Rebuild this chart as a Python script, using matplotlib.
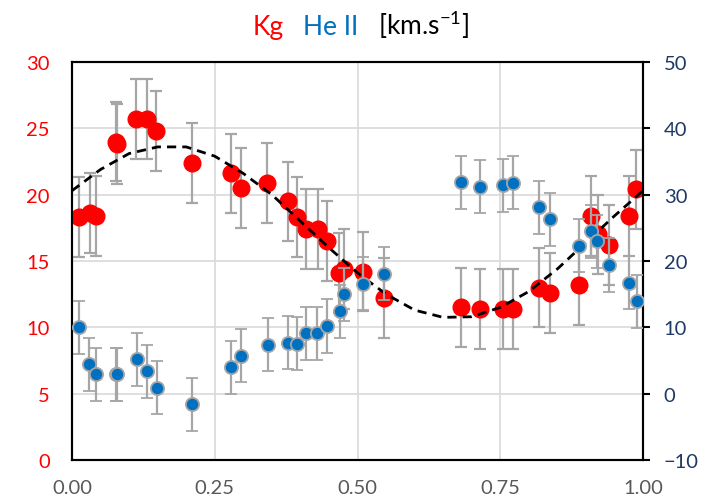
import matplotlib
matplotlib.use("Agg")
import matplotlib.pyplot as plt
from matplotlib.offsetbox import TextArea, HPacker, AnchoredOffsetbox

plt.rcParams['font.family'] = ['Lato', 'DejaVu Sans']

# Kg (red, left axis)
kg_phase = [0.012, 0.032, 0.042, 0.077, 0.079, 0.112, 0.132, 0.147, 0.210, 0.278,
            0.296, 0.342, 0.378, 0.394, 0.410, 0.430, 0.447, 0.468, 0.477, 0.509,
            0.546, 0.681, 0.715, 0.754, 0.773, 0.818, 0.837, 0.888, 0.909, 0.922,
            0.941, 0.975, 0.988]
kg_vel = [18.3, 18.6, 18.4, 24.0, 23.8, 25.7, 25.7, 24.8, 22.4, 21.6,
          20.5, 20.9, 19.5, 18.3, 17.4, 17.4, 16.5, 14.1, 14.4, 14.2,
          12.2, 11.5, 11.4, 11.4, 11.4, 13.0, 12.6, 13.2, 18.4, 17.0,
          16.2, 18.4, 20.4]
kg_err = 3.0

# He II (blue, right axis)
he_phase = [0.013, 0.030, 0.042, 0.077, 0.079, 0.113, 0.131, 0.148, 0.210, 0.279,
            0.296, 0.343, 0.378, 0.394, 0.410, 0.429, 0.447, 0.469, 0.477, 0.509,
            0.546, 0.681, 0.715, 0.754, 0.773, 0.818, 0.838, 0.888, 0.909, 0.920,
            0.941, 0.975, 0.989]
he_vel = [10.0, 4.4, 2.9, 2.9, 2.9, 5.2, 3.4, 0.9, -1.6, 4.0,
          5.7, 7.4, 7.7, 7.5, 9.1, 9.1, 10.2, 12.4, 15.0, 16.6,
          18.1, 31.9, 31.2, 31.4, 31.8, 28.1, 26.3, 22.3, 24.5, 23.0,
          19.4, 16.7, 13.9]
he_err = 4.0

# Fitted curve (left axis)
fit_phase = [0.00, 0.05, 0.10, 0.15, 0.20, 0.25, 0.30, 0.35, 0.40, 0.45, 0.50,
             0.55, 0.60, 0.65, 0.70, 0.75, 0.80, 0.85, 0.90, 0.95, 1.00]
fit_vel = [20.3, 21.9, 23.1, 23.6, 23.6, 22.9, 21.6, 20.0, 18.0, 16.0, 14.1,
           12.5, 11.3, 10.75, 10.8, 11.5, 12.7, 14.4, 16.4, 18.4, 20.3]

xticks = [0.00, 0.25, 0.50, 0.75, 1.00]
left_ticks = [0, 5, 10, 15, 20, 25, 30]
right_ticks = [-10, 0, 10, 20, 30, 40, 50]

RED = '#FF0000'
BLUE = '#0070C0'
GREY = '#A6A6A6'
NAVY = '#1F3864'

fig = plt.figure(figsize=(7.02, 5.02), dpi=100)
ax = fig.add_axes([72/702, 1-461/502, (643-72)/702, (461-63)/502])

ax.errorbar(kg_phase, kg_vel, yerr=kg_err, fmt='o', color=RED, ms=12,
            mec=RED, ecolor=GREY, elinewidth=1.6, capsize=4.5, capthick=1.6, zorder=3)
ax.plot(fit_phase, fit_vel, color='black', lw=2.0, ls=(0, (3.3, 2.2)), zorder=4)

ax.set_xlim(0, 1)
ax.set_ylim(0, 30)
ax.set_xticks(xticks)
ax.set_xticklabels([f"{t:.2f}" for t in xticks])
ax.set_yticks(left_ticks)
ax.grid(True, color='#D9D9D9', lw=1.2)
ax.set_axisbelow(True)
ax.tick_params(axis='y', length=0, pad=16, labelsize=14.5, labelcolor=RED)
ax.tick_params(axis='x', length=0, pad=14, labelsize=14.5, labelcolor='#595959')
for s in ax.spines.values():
    s.set_color('black')
    s.set_linewidth(1.5)

ax2 = ax.twinx()
ax2.errorbar(he_phase, he_vel, yerr=he_err, fmt='o', color=BLUE, ms=9.5,
             mec=GREY, mew=1.3, ecolor=GREY, elinewidth=1.6, capsize=4.5,
             capthick=1.6, zorder=3)
ax2.set_ylim(-10, 50)
ax2.set_yticks(right_ticks)
ax2.tick_params(axis='y', length=5, width=1.5, color='black', pad=10,
                labelsize=14.5, labelcolor=NAVY)
for s in ax2.spines.values():
    s.set_color('black')
    s.set_linewidth(1.5)

parts = [TextArea("Kg", textprops=dict(color=RED, fontsize=19)),
         TextArea("He II", textprops=dict(color=BLUE, fontsize=19)),
         TextArea(r"[km.s$^{\mathregular{-1}}$]", textprops=dict(color='black', fontsize=19))]
box = HPacker(children=parts, align='baseline', pad=0, sep=14)
anch = AnchoredOffsetbox(loc='center', child=box, frameon=False,
                         bbox_to_anchor=(361/702, 1-25/502),
                         bbox_transform=fig.transFigure, borderpad=0, pad=0)
fig.add_artist(anch)

fig.savefig('out.png', dpi=100)
